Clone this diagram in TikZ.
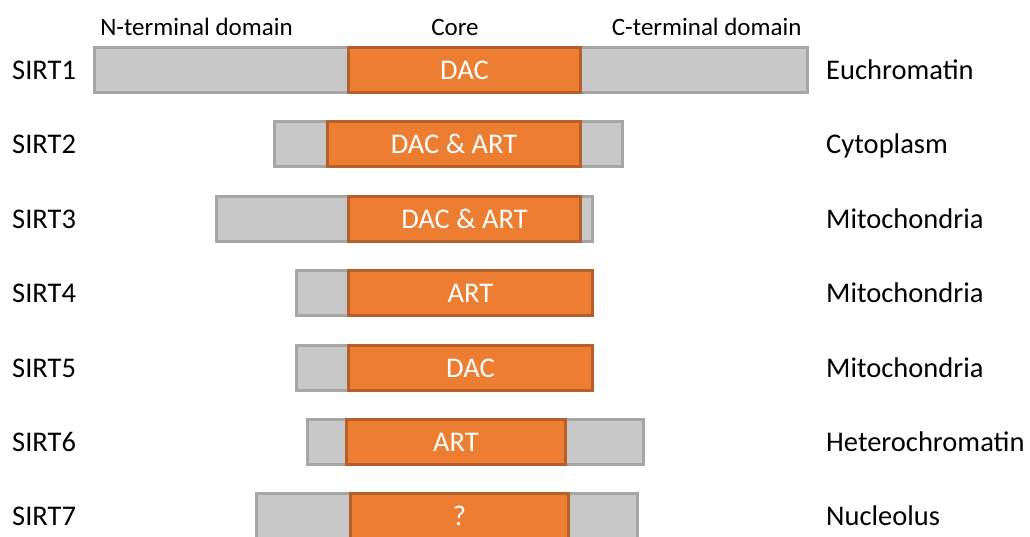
\documentclass[tikz,border=0pt]{standalone}
\usepackage{fontspec}
\setmainfont{Carlito}
\definecolor{domfill}{HTML}{C8C8C8}
\definecolor{domedge}{HTML}{A6A6A6}
\definecolor{corefill}{HTML}{ED7D31}
\definecolor{coreedge}{HTML}{B5602A}
\begin{document}
\begin{tikzpicture}[x=1pt,y=-1pt,
  protbox/.style={draw=domedge,fill=domfill,line width=3pt,inner sep=0pt,outer sep=0pt,
    rectangle,minimum height=45pt},
  corebox/.style={draw=coreedge,fill=corefill,line width=3pt,inner sep=0pt,outer sep=0pt,
    rectangle,minimum height=45pt},
  acttext/.style={anchor=base,inner sep=0pt,text=white,font=\fontsize{28.5}{34}\selectfont},
  sirtlabel/.style={anchor=base west,inner sep=0pt,font=\fontsize{28.5}{34}\selectfont},
  headlabel/.style={anchor=base,inner sep=0pt,font=\fontsize{25}{30}\selectfont}]
\useasboundingbox (0,0) rectangle (1030,536);

% column headings
\node[headlabel] (hN) at (196.5,35) {N-terminal domain};
\node[headlabel] (hCore) at (455,35) {Core};
\node[headlabel] (hC) at (706.7,35) {C-terminal domain};

% one row per sirtuin: full protein (grey) with its catalytic core (orange)
% #1 row, #2 y-centre, #3/#4 protein left/right, #5/#6 core left/right, #7 activity, #8 location
\newcommand{\sirtbar}[8]{%
  \node[protbox,minimum width={#4-#3-3pt}] (prot#1) at ({(#3+#4)/2},#2) {};
  \node[corebox,minimum width={#6-#5-3pt}] (core#1) at ({(#5+#6)/2},#2) {};
  \node[acttext] (act#1) at ({(#5+#6)/2},#2+9.5) {#7};
  \node[sirtlabel] (lab#1) at (12,#2+9.5) {SIRT#1};
  \node[sirtlabel] (loc#1) at (826,#2+9.5) {#8};
}

\sirtbar{1}{70}{92.5}{808.5}{347}{582}{DAC}{Euchromatin}
\sirtbar{2}{144.4}{272.5}{624}{326}{582}{DAC \& ART}{Cytoplasm}
\sirtbar{3}{218.8}{215}{594}{347}{582}{DAC \& ART}{Mitochondria}
\sirtbar{4}{293.2}{295}{594}{347}{594}{ART}{Mitochondria}
\sirtbar{5}{367.6}{295}{594}{347}{594}{DAC}{Mitochondria}
\sirtbar{6}{442}{306}{645}{345}{567}{ART}{Heterochromatin}
\sirtbar{7}{516.4}{255}{639}{349}{570}{?}{Nucleolus}
\end{tikzpicture}
\end{document}
